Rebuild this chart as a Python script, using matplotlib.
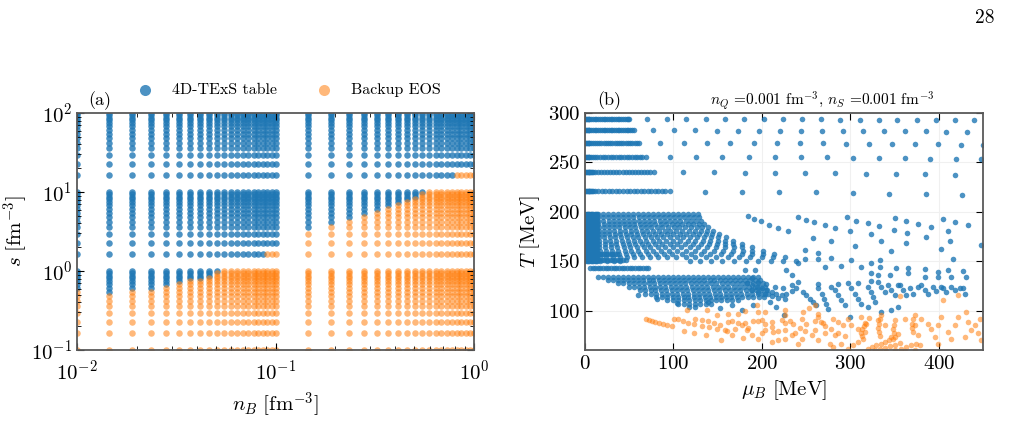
import numpy as np
import matplotlib.pyplot as plt
import matplotlib as mpl

mpl.rcParams.update({
    "font.family": "serif",
    "font.serif": ["cmr10", "DejaVu Serif"],
    "mathtext.fontset": "cm",
    "axes.formatter.use_mathtext": True,
    "axes.unicode_minus": False,
})

blue = "#1f77b4"
orange = "#ff7f0e"

# ---- panel (a): grid in (n_B, s) ----
nB_low = [0.01, 0.0145, 0.019, 0.0235, 0.028, 0.0325, 0.037, 0.0415, 0.046, 0.0505,
          0.055, 0.0595, 0.064, 0.0685, 0.073, 0.0775, 0.082, 0.0865, 0.091, 0.0955, 0.1]
nB_high = [0.145, 0.19, 0.235, 0.28, 0.325, 0.37, 0.415, 0.46, 0.505, 0.55,
           0.595, 0.64, 0.685, 0.73, 0.775, 0.82, 0.865, 0.91, 0.955, 1.0]
s_rows = [0.1, 0.164, 0.229, 0.293, 0.357, 0.421, 0.486, 0.55, 0.614, 0.679, 0.743,
          0.807, 0.871, 0.936, 1.0,
          1.643, 2.286, 2.929, 3.571, 4.214, 4.857, 5.5, 6.143, 6.786, 7.429, 8.071,
          8.714, 9.357, 10.0,
          16.43, 22.86, 29.29, 35.71, 42.14, 48.57, 55.0, 61.43, 67.86, 74.29, 80.71,
          87.14, 93.57, 100.0]
# entropy below which the backup EOS is used, per n_B column
s_cut_low = [0.58, 0.52, 0.58, 0.58, 0.63, 0.7, 0.75, 0.8, 0.85, 0.95,
             1.2, 1.2, 1.2, 1.2, 1.2, 1.2, 1.2, 1.2, 2.0, 2.0, 2.0]
s_cut_high = [3.3, 4.0, 4.5, 5.0, 5.6, 6.5, 7.1, 7.9, 8.7, 9.7,
              12, 12, 12, 12, 12, 18, 18, 18, 18, 18]

# ---- panel (b): (mu_B, T) at n_Q = n_S = 0.001 fm^-3 ----
# dense strips at high T
strip_T = [294.2, 282.7, 270.1, 255.9, 240.0, 220.6]
strip_mu = [
    [0, 1, 2, 3, 4, 5, 7, 9, 11, 13, 15, 17, 19, 21, 23, 25, 27, 29, 31, 33, 35, 37,
     39, 41, 43, 45, 47, 49, 50],
    [0, 1, 2, 3, 4, 5, 7, 9, 11, 13, 15, 17, 19, 21, 23, 25, 27, 29, 31, 33, 35, 37,
     39, 41, 43, 45, 47, 49, 51, 53, 55],
    [0, 1, 2, 3, 4, 5, 7, 9, 11, 13.5, 16, 18.5, 21, 23.5, 26, 28.5, 31, 33.5, 36,
     38.5, 41, 43.5, 46, 48.5, 51, 53.5, 56, 58.5, 61],
    [0, 1, 2, 3, 4, 5, 7, 9, 11, 14, 17, 20, 23, 26, 29, 32, 35, 38, 41, 44, 47, 50,
     53, 56, 59, 62, 65, 68.6],
    [0, 1, 2, 3, 4, 5, 6, 7, 8, 9, 11, 14.5, 18, 21.5, 25, 28.5, 32, 35.5, 39, 42.5,
     46, 49.5, 53, 56.5, 60, 63.5, 67, 70.5, 74, 78],
    [0, 1, 2, 3, 4, 5, 6, 7, 8, 9, 11, 15, 19, 23, 27, 31, 35, 39, 43, 47, 51, 55,
     59, 63, 67, 71, 75, 79, 83, 87, 91, 96],
]
sparse_mu = [
    [70.5, 92.7, 114.6, 136.4, 158.2, 180.1, 201.9, 223.7, 245.2, 267.1, 288.6, 310.4,
     331.9, 353.3, 375.1, 396.6, 418.1, 439.5],
    [77.3, 101, 124.7, 148.8, 172.5, 196.3, 220, 243.7, 267.5, 291.2, 314.6, 338.3,
     361.6, 385, 408.7, 432],
    [85.2, 111.5, 137.9, 164.3, 190.6, 217, 243, 269, 295.4, 321.4, 347.3, 372.9,
     399.3, 424.9, 449.7],
    [96, 125.9, 155.3, 185, 214.7, 244, 273.9, 303.3, 332.2, 361.6, 390.6, 419.7, 448.3],
    [111.2, 145.8, 180.5, 214.4, 248.3, 282.9, 317.2, 351.1, 384.2, 418.1],
    [135.6, 177.4, 219.2, 261, 302.8, 343.9, 385.3, 426.4],
]
sparse_T = [
    [294.2, 294.1, 294.0, 294.0, 293.9, 293.8, 293.7, 293.6, 293.6, 293.5, 293.4, 293.3,
     293.2, 293.1, 293.0, 292.9, 292.8, 292.6],
    [282.5, 282.4, 282.3, 282.2, 282.1, 282.0, 282.0, 281.9, 281.8, 281.7, 281.6, 281.5,
     281.4, 281.3, 281.1, 281.0],
    [270.0, 269.9, 269.8, 269.7, 269.6, 269.5, 269.4, 269.2, 269.0, 268.8, 268.6, 268.4,
     268.2, 268.0, 267.8],
    [255.8, 255.6, 255.5, 255.4, 255.3, 255.2, 255.0, 254.7, 254.4, 254.1, 253.8, 253.5,
     253.2],
    [240.0, 239.9, 239.7, 239.5, 239.2, 238.9, 238.6, 238.3, 238.0, 237.6],
    [220.4, 220.2, 219.9, 219.6, 219.0, 218.3, 217.5, 216.6],
]

# solid block at small mu_B
block_mu = [0.5, 2, 3.5, 5, 6.5, 8, 9.5, 11, 12.5, 14]
block_T = [198, 195, 192, 189, 186, 183, 180, 177, 174, 171, 168, 165, 162, 159, 156,
           153, 150]
# short horizontal strips below the block
low_strip_T = [156.9, 151.0, 143.3]
low_strip_mu = [
    [16, 19, 22, 25, 28, 31, 34, 36],
    [16, 19, 22, 25, 28, 31, 34, 37, 40, 43, 46],
    [5.6, 8.5, 11.5, 14.5, 17.5, 20.5, 23.5, 26.5, 29.5, 32.5, 35.5, 38.5, 41.5, 44.5,
     47.5, 50.5, 53.5, 56.5, 59.5, 62.5, 65.5, 68.5, 71.6],
]

# upper fan: columns hanging from T ~ 198 and bending to larger mu_B
upper_col_mu = [15.1, 20.7, 26.4, 32.0, 37.7, 43.3, 49.0, 54.6, 60.3, 65.9, 71.6, 77.2,
                82.9, 88.5, 94.2, 99.8, 105.5, 111.1, 116.8, 122.4, 128.1]
upper_lean = [2, 4, 6, 8, 11, 14, 17, 21, 25, 30, 35, 41, 47, 54, 61, 69, 77, 85, 93,
              101, 110]
upper_len = [15, 15, 15, 15, 14, 14, 14, 14, 14, 14, 14, 15, 15, 15, 15, 15, 15, 15, 15,
             15, 15]
upper_T = [197.9, 194.5, 191.1, 187.7, 184.3, 180.9, 177.6, 174.2, 170.8, 167.4, 164.0,
           160.6, 157.2, 153.8, 150.4]
upper_bend = [0, 0.01, 0.03, 0.06, 0.1, 0.15, 0.21, 0.28, 0.36, 0.45, 0.55, 0.66, 0.78,
              0.89, 1.0]

# lower fan: columns hanging from T ~ 134
lower_col_mu = [14.3, 19.9, 25.6, 31.2, 36.9, 42.5, 48.2, 53.8, 59.5, 65.1, 70.8, 76.4,
                82.1, 87.7, 93.4, 99.0, 104.7, 110.3, 116.0, 121.6, 127.3, 132.9, 138.6,
                144.2, 149.9, 155.5, 161.2, 166.8, 172.5, 178.1, 183.8, 189.4, 195.1]
lower_lean = [0, 0, 1, 1, 2, 2, 3, 3, 4, 4, 5, 5, 6, 6, 7, 7, 8, 8, 9, 9, 10, 10, 11, 11,
              12, 12, 13, 13, 14, 14, 15, 15, 16]
lower_len = [1, 1, 2, 2, 3, 3, 4, 4, 5, 6, 6, 7, 7, 8, 8, 9, 9, 10, 10, 9, 9, 9, 8, 8, 8,
             8, 8, 7, 7, 7, 7, 7, 6]
lower_T = [134.2, 130.8, 127.4, 124.0, 120.6, 117.2, 113.8, 110.4, 107.0, 103.6, 100.2]
lower_bend = [0, 0.2, 0.38, 0.53, 0.66, 0.76, 0.84, 0.9, 0.95, 0.98, 1.0]

# scattered blue points (mu_B, T)
blue_pts = [
    (184.2, 195.5), (191, 193.1), (199.3, 190.4), (208, 187), (218.5, 184), (229.4, 180.9),
    (258.3, 173.8), (278.7, 170.1), (305.8, 165), (240.3, 194.8), (249.8, 192.1),
    (259.2, 189.8), (271.2, 186.7), (283.2, 183.3), (296.4, 194.2), (306.9, 191.1),
    (319.7, 188.8), (332.9, 185.7), (351, 193.5), (363.4, 190.8), (376.6, 187.7),
    (391.7, 184.3), (404.8, 192.5), (418, 189.8), (433.1, 186.7), (299.4, 180),
    (323.1, 177.6), (349.1, 181.6), (364.5, 178.9), (363.4, 168.1), (386, 174.9),
    (410.5, 180), (412.4, 170.4), (448.2, 166.4), (334.4, 170.4), (402.2, 162.3),
    (346.5, 160.3), (415.8, 151.8),
    (180.8, 140.9), (192.1, 140.9), (188.3, 132.5), (227.8, 140.9), (233.5, 135.9),
    (241, 147.7), (248.6, 152.1), (248.6, 161.3), (263.6, 157.9), (263.6, 152.1),
    (271.2, 144.3), (278.7, 152.8), (290, 145.4), (301.3, 151.1), (312.6, 144.3),
    (323.9, 138.2), (323.9, 147.7), (333.3, 144.3), (333.3, 151.1), (331.4, 135.9),
    (344.6, 135.9), (352.1, 142.6), (365.3, 142.6), (365.3, 137.6), (384.1, 142),
    (384.1, 134.2), (399.2, 139.3), (399.2, 134.2), (410.5, 140.6), (414.3, 134.2),
    (427.4, 139.9), (431.2, 133.5),
    (182.7, 127.4), (188.3, 125.7), (194, 124), (199.6, 122.3), (205.2, 120.6),
    (210.9, 118.9), (216.5, 117.2), (222.2, 115.5), (227.8, 117.2), (233.5, 119.6),
    (239.1, 122.3), (188.3, 120.6), (195.8, 118.9), (203.4, 117.2), (210.9, 114.8),
    (218.4, 112.8), (226, 112.1), (195.8, 129.1), (205.2, 126.4), (214.7, 124),
    (224.1, 122.3), (233.5, 125.7), (241, 128.4), (216.5, 103.6), (225.2, 95.2),
    (209, 108.7),
    (246.7, 118.9), (250.4, 115.5), (254.2, 112.1), (258, 108.7), (261.7, 105.3),
    (263.6, 122.3), (267.4, 117.2), (270.4, 112.1), (273, 107), (274.9, 101.9),
    (282.5, 120.6), (286.2, 115.5), (290, 110.4), (293.7, 105.3), (301.3, 122.3),
    (305, 117.2), (308.8, 112.1), (312.6, 107), (320.1, 124), (323.9, 118.9),
    (325.8, 113.8), (327.6, 108.7), (331.4, 129.1), (335.2, 124), (338.9, 118.9),
    (342.7, 125.7), (346.5, 120.6), (350.2, 115.5), (354, 103.6), (355.9, 125.7),
    (359.7, 120.6), (363.4, 115.5), (367.2, 122.3), (371, 117.2), (380.4, 125.7),
    (384.1, 120.6), (387.9, 117.2), (393.5, 124), (397.3, 119.6), (404.8, 122.3),
    (408.6, 118.9), (414.3, 124), (418.8, 120.6), (423.7, 122.3), (299.4, 93.5),
    (320.1, 103.6), (335.2, 98.6), (346.5, 100.3), (429.3, 117.2), (263.6, 126.4),
    (278.7, 124), (286.2, 126.4), (297.5, 127.4), (308.8, 127.4), (323.9, 129.8),
    (354, 125.7), (376.6, 124), (403, 124), (427.4, 122.3),
    (139.3, 108.7), (152.5, 102.6), (165.7, 106), (177, 100.3), (190.2, 105.3),
    (60.3, 115.5), (81, 112.1), (103.6, 108),
]

# backup-EOS points (mu_B, T)
orange_pts = [
    (68.9, 91.8), (72.3, 90.8), (75.7, 89.7), (79.5, 88.7), (83.6, 87.7), (88.1, 86.7),
    (93, 85.7), (98.7, 84.7), (112.2, 78.9), (123.5, 76.9), (136.3, 74.8), (153.3, 70.4),
    (100.9, 91.8), (105.4, 91.1), (110.3, 89.7), (116.7, 87.7), (123.5, 86.3),
    (131.8, 84.7), (140.1, 83), (149.5, 80.9), (160, 78.9),
    (114.9, 100.3), (137.5, 100.3), (132.6, 90.8), (139.3, 89.1), (146.1, 87.4),
    (152.5, 85.7), (161.9, 96.9), (165.7, 89.1), (172.5, 87.7), (177.8, 85), (184.5, 82.6),
    (180.8, 99.2), (194, 105.3), (195.8, 89.1), (203.4, 86.7), (210.9, 83.3),
    (217.7, 78.9), (203.4, 98.6), (226, 95.2), (226, 87.7), (235.4, 86), (242.9, 82.6),
    (246.7, 98.6), (253.1, 102.6), (259.9, 106), (263.6, 96.9), (266.6, 88.4),
    (271.9, 84.3), (278.7, 80.9), (286.2, 77.5), (294.5, 74.1), (301.3, 85),
    (308.8, 81.6), (316.3, 78.2), (318.2, 86.7), (320.9, 92.5), (286.2, 88.4),
    (165.7, 74.8), (188.3, 74.8), (199.6, 77.5), (233.5, 74.8), (244.8, 71.4),
    (256.1, 74.8), (280.6, 63), (290, 66.3), (218.4, 69.7),
    (124.3, 91.8), (161.9, 88.4), (180.8, 87.7), (190.2, 89.1), (199.6, 90.1),
    (210.9, 88.4), (222.2, 90.1), (231.6, 89.1), (250.4, 86.7), (259.9, 89.1),
    (269.3, 87.7), (158.2, 79.9), (169.5, 81.6), (182.7, 79.9), (203.4, 79.9),
    (212.8, 78.2), (226, 79.9), (237.3, 77.5), (248.6, 78.9), (259.9, 79.9),
    (271.2, 77.5), (282.5, 74.8), (178.9, 72.1), (195.8, 71.4), (210.9, 68),
    (226, 70.8), (241, 66.3), (263.6, 69.7), (276.8, 66.3), (195.8, 98.6),
    (173.2, 96.9), (148.8, 95.2), (226, 100.3), (244.8, 91.8), (263.6, 93.5),
    (280.6, 91.8), (291.9, 85), (297.5, 91.8), (312.6, 93.5),
    (355.9, 114.8), (404.8, 110.4), (421.8, 116.2), (431.2, 98.6), (403, 93.5),
    (421.8, 93.5), (436.9, 79.9), (444.4, 77.5), (448.2, 69.7), (429.3, 73.1),
    (418, 85), (410.5, 78.2), (391.7, 81.6), (395.4, 73.1), (376.6, 74.8), (372.8, 85),
    (361.5, 91.8), (354, 76.5), (346.5, 73.1), (338.9, 85), (331.4, 90.1), (380.4, 91.8),
    (387.9, 86.7), (399.2, 85), (440.6, 85), (446.3, 91.8), (433.1, 88.4), (414.3, 71.4),
    (399.2, 66.3), (378.5, 64.6),
    (317, 87.7), (316, 84.3), (313, 80.9), (312, 77.5), (313, 74.1), (314, 70.8),
    (335, 95.2), (333, 91.1), (332, 86.7), (331, 82.3), (332, 78.2), (334, 74.1),
    (351, 90.1), (349.5, 85.7), (348.7, 81.6), (349.5, 77.5), (351, 73.1),
    (372.8, 95.2), (371, 91.1), (369.8, 86.7), (369.8, 82.3), (371, 78.2),
    (320.1, 61.3), (324.6, 63), (329.5, 64.6), (334.4, 66.3), (338.9, 68), (343.5, 69.7),
    (348.4, 71.4), (327.6, 59.6), (333.3, 60.6), (338.9, 61.9), (344.6, 63.6),
    (350.2, 65.3), (355.9, 67), (357.8, 61.3), (363.4, 63), (369.1, 64.6), (374.7, 66.3),
    (350.2, 59.6), (361.5, 58.5), (372.8, 59.6), (340.8, 58.5), (308.8, 68),
    (303.2, 64.6), (297.5, 61.3),
]

# ---- assemble point sets ----
nB_all = nB_low + nB_high
cut_all = s_cut_low + s_cut_high
nn, ss = np.meshgrid(nB_all, s_rows)
cc, _ = np.meshgrid(cut_all, s_rows)
is_table = ss >= cc

b_mu, b_T = [], []
for T, mus in zip(strip_T, strip_mu):
    b_mu += mus
    b_T += [T] * len(mus)
for mus, Ts in zip(sparse_mu, sparse_T):
    b_mu += mus
    b_T += Ts
for mu0 in block_mu:
    for T in block_T:
        b_mu.append(mu0)
        b_T.append(T)
for T, mus in zip(low_strip_T, low_strip_mu):
    b_mu += mus
    b_T += [T] * len(mus)
for mu0, lean, n in zip(upper_col_mu, upper_lean, upper_len):
    for k in range(n):
        b_mu.append(mu0 + lean * upper_bend[k])
        b_T.append(upper_T[k])
for mu0, lean, n in zip(lower_col_mu, lower_lean, lower_len):
    for k in range(n):
        b_mu.append(mu0 + lean * lower_bend[k])
        b_T.append(lower_T[k])
b_mu += [p[0] for p in blue_pts]
b_T += [p[1] for p in blue_pts]
o_mu = [p[0] for p in orange_pts]
o_T = [p[1] for p in orange_pts]

# ---- figure ----
fig = plt.figure(figsize=(10.13, 4.36), dpi=100)
ax1 = fig.add_axes([77 / 1013, 86 / 436, 397 / 1013, 237 / 436])
ax2 = fig.add_axes([585 / 1013, 86 / 436, 398 / 1013, 237 / 436])

ax1.scatter(nn[is_table], ss[is_table], s=22, color=blue, alpha=0.8, lw=0,
            label="4D-TExS table")
ax1.scatter(nn[~is_table], ss[~is_table], s=22, color=orange, alpha=0.55, lw=0,
            label="Backup EOS")
ax1.set_xscale("log")
ax1.set_yscale("log")
ax1.set_xlim(0.01, 1)
ax1.set_ylim(0.1, 100)
ax1.set_xlabel(r"$n_B\ [\mathrm{fm}^{-3}]$", fontsize=15)
ax1.set_ylabel(r"$s\ [\mathrm{fm}^{-3}]$", fontsize=15, labelpad=1)
ax1.text(0.028, 1.035, "(a)", transform=ax1.transAxes, fontsize=13)
ax1.legend(loc="lower center", bbox_to_anchor=(0.523, 1.005), ncol=2, frameon=False,
           markerscale=1.7, fontsize=11.5, columnspacing=1.95, handletextpad=0.7)

ax2.scatter(b_mu, b_T, s=16, color=blue, alpha=0.8, lw=0)
ax2.scatter(o_mu, o_T, s=16, color=orange, alpha=0.55, lw=0)
ax2.set_xlim(0, 450)
ax2.set_ylim(60, 300)
ax2.set_xticks([0, 100, 200, 300, 400])
ax2.set_yticks([100, 150, 200, 250, 300])
ax2.grid(True, color="0.94", lw=0.8)
ax2.set_axisbelow(True)
ax2.set_xlabel(r"$\mu_B\ [\mathrm{MeV}]$", fontsize=15)
ax2.set_ylabel(r"$T\ [\mathrm{MeV}]$", fontsize=15)
ax2.text(0.03, 1.035, "(b)", transform=ax2.transAxes, fontsize=13)
ax2.text(0.595, 1.035, r"$n_Q$ =0.001 fm$^{-3}$, $n_S$ =0.001 fm$^{-3}$",
         transform=ax2.transAxes, ha="center", fontsize=11)

for ax in (ax1, ax2):
    ax.tick_params(which="both", direction="in", top=True, right=True, labelsize=15)
    ax.tick_params(which="major", length=5)
    ax.tick_params(which="minor", length=3)
    for sp in ax.spines.values():
        sp.set_color("0.35")
        sp.set_linewidth(1.3)
ax1.tick_params(axis="x", which="major", pad=7)

fig.text(985 / 1013, 1 - 18 / 436, "28", ha="center", va="center", fontsize=14)

fig.savefig("out.png", dpi=100)
